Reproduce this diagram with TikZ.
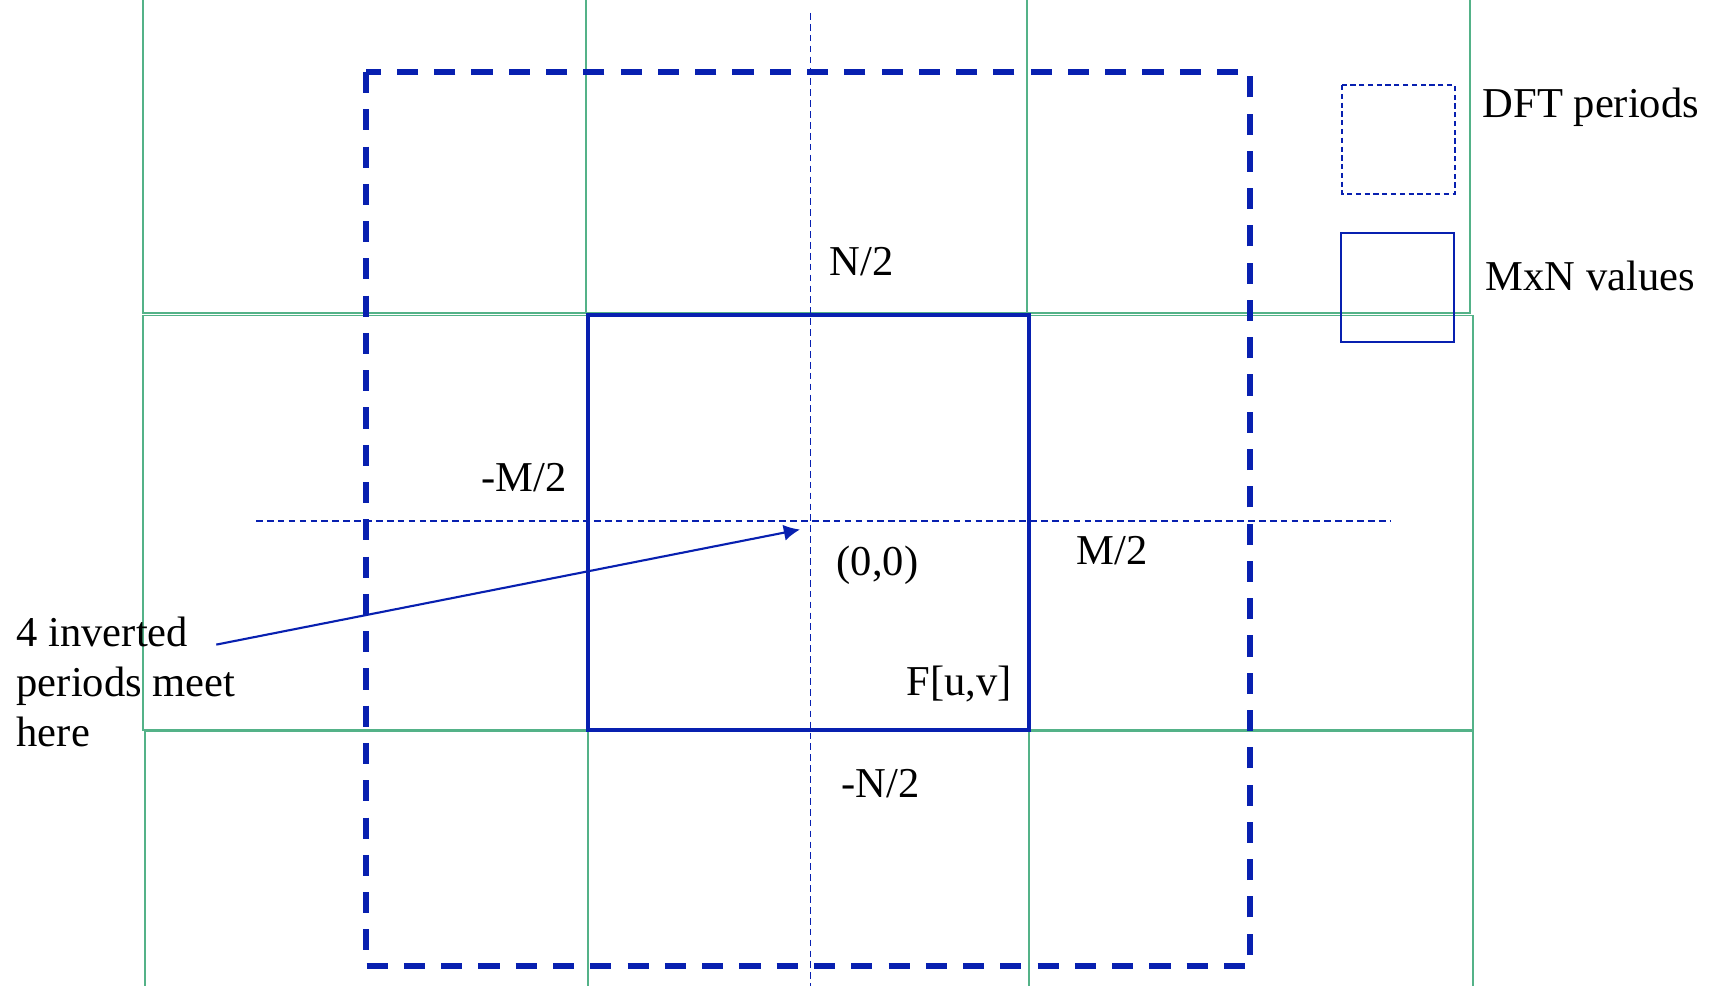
\documentclass[tikz,border=0pt]{standalone}
\usepackage{fontspec}
\setmainfont{Liberation Serif}
\usetikzlibrary{arrows.meta}

\definecolor{gridgreen}{RGB}{84,178,136}
\definecolor{dftblue}{RGB}{8,32,176}

\begin{document}
\begin{tikzpicture}[
  x=0.01cm, y=-0.01cm,
  >=Latex,
  cell/.style={draw=gridgreen,line width=0.45pt},
  axis/.style={draw=dftblue,line width=0.4pt,dash pattern=on 1.9pt off 1.2pt},
  period/.style={draw=dftblue,line width=1.5pt,dash pattern=on 6pt off 4.6pt},
  values/.style={draw=dftblue,line width=1.1pt},
  annot/.style={font=\fontsize{12.1}{14.2}\selectfont,inner sep=0pt,anchor=base west,align=left},
]

% Page frame
\useasboundingbox (0,0) rectangle (1713,985);
\clip (0,0) rectangle (1713,985);

% Periodic copies (green cells)
\draw[cell] (143,-10) rectangle (586,313);
\draw[cell] (586,-10) rectangle (1027,313);
\draw[cell] (1027,-10) rectangle (1470,313);
\draw[cell] (143,315.5) rectangle (588,730);
\draw[cell] (1029,315.5) rectangle (1473,730);
\draw[cell] (145,731.5) rectangle (588,995);
\draw[cell] (588,731.5) rectangle (1029,995);
\draw[cell] (1029,731.5) rectangle (1473,995);

% Frequency axes through the origin
\draw[axis] (810.6,13) -- (810.6,990);
\draw[axis] (256,521) -- (1390,521);

% One centred period and the stored MxN block
\draw[period] (366,72) rectangle (1250,966);
\draw[values] (588,314.6) rectangle (1029,729.8);

% Legend
\draw[draw=dftblue,line width=0.45pt,dash pattern=on 1.5pt off 1pt] (1341.7,85) rectangle (1455,194);
\draw[draw=dftblue,line width=0.45pt] (1340.7,233) rectangle (1454,342);
\node[annot] (lgdft) at (1482,117) {DFT periods};
\node[annot] (lgval) at (1485,290) {MxN values};

% Edge labels
\node[annot] (ntop) at (829,275) {N/2};
\node[annot] (mleft) at (480.7,491) {-M/2};
\node[annot] (orig) at (836,575.7) {(0,0)};
\node[annot] (mright) at (1076,564) {M/2};
\node[annot] (fuv) at (906,695.7) {F[u,v]};
\node[annot] (nbot) at (840.7,797) {-N/2};

% Note with arrow to the origin (base = last line)
\node[annot] (meet) at (16,746.7) {4 inverted\\periods meet\\here};
\coordinate (tail) at (216.3,644.6);
\coordinate (tip) at (800,529.5);
\draw[dftblue,line width=0.6pt,-{Latex[length=4.6pt,width=4.6pt]}] (tail) -- (tip);

\end{tikzpicture}
\end{document}
